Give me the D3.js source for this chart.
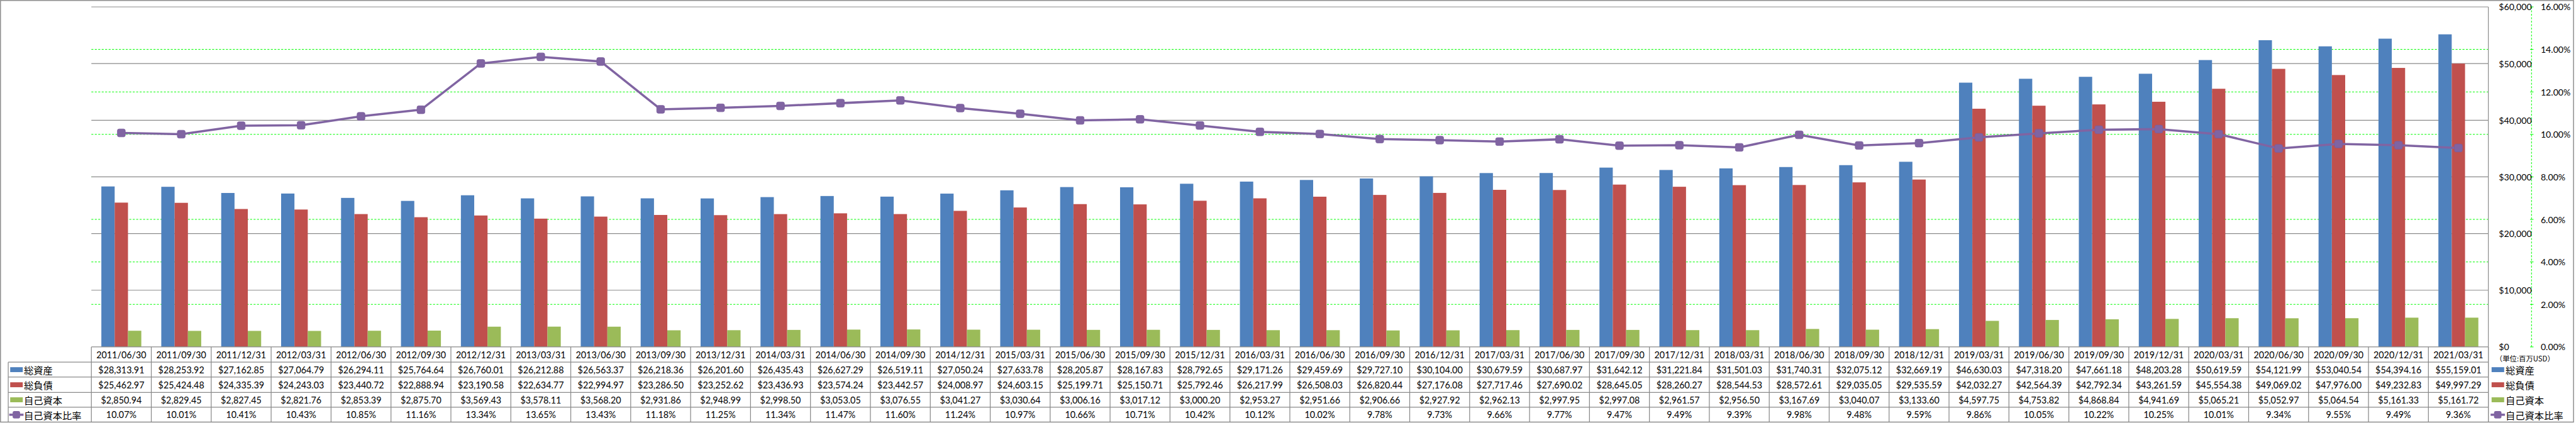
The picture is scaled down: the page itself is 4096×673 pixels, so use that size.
<!DOCTYPE html>
<html>
<head>
<meta charset="utf-8">
<script src="https://cdn.jsdelivr.net/npm/d3@7"></script>
<style>
html,body{margin:0;padding:0;background:#fff;}
svg{display:block;}
</style>
</head>
<body>
<svg id="chart" width="4096" height="673"></svg>
<script>
// ---------- data ----------
const dates = ["2011/06/30","2011/09/30","2011/12/31","2012/03/31","2012/06/30","2012/09/30","2012/12/31","2013/03/31","2013/06/30","2013/09/30","2013/12/31","2014/03/31","2014/06/30","2014/09/30","2014/12/31","2015/03/31","2015/06/30","2015/09/30","2015/12/31","2016/03/31","2016/06/30","2016/09/30","2016/12/31","2017/03/31","2017/06/30","2017/09/30","2017/12/31","2018/03/31","2018/06/30","2018/09/30","2018/12/31","2019/03/31","2019/06/30","2019/09/30","2019/12/31","2020/03/31","2020/06/30","2020/09/30","2020/12/31","2021/03/31"];
const totalAssets = [28313.91,28253.92,27162.85,27064.79,26294.11,25764.64,26760.01,26212.88,26563.37,26218.36,26201.60,26435.43,26627.29,26519.11,27050.24,27633.78,28205.87,28167.83,28792.65,29171.26,29459.69,29727.10,30104.00,30679.59,30687.97,31642.12,31221.84,31501.03,31740.31,32075.12,32669.19,46630.03,47318.20,47661.18,48203.28,50619.59,54121.99,53040.54,54394.16,55159.01];
const totalLiabilities = [25462.97,25424.48,24335.39,24243.03,23440.72,22888.94,23190.58,22634.77,22994.97,23286.50,23252.62,23436.93,23574.24,23442.57,24008.97,24603.15,25199.71,25150.71,25792.46,26217.99,26508.03,26820.44,27176.08,27717.46,27690.02,28645.05,28260.27,28544.53,28572.61,29035.05,29535.59,42032.27,42564.39,42792.34,43261.59,45554.38,49069.02,47976.00,49232.83,49997.29];
const equity = [2850.94,2829.45,2827.45,2821.76,2853.39,2875.70,3569.43,3578.11,3568.20,2931.86,2948.99,2998.50,3053.05,3076.55,3041.27,3030.64,3006.16,3017.12,3000.20,2953.27,2951.66,2906.66,2927.92,2962.13,2997.95,2997.08,2961.57,2956.50,3167.69,3040.07,3133.60,4597.75,4753.82,4868.84,4941.69,5065.21,5052.97,5064.54,5161.33,5161.72];
const equityRatio = [10.07,10.01,10.41,10.43,10.85,11.16,13.34,13.65,13.43,11.18,11.25,11.34,11.47,11.60,11.24,10.97,10.66,10.71,10.42,10.12,10.02,9.78,9.73,9.66,9.77,9.47,9.49,9.39,9.98,9.48,9.59,9.86,10.05,10.22,10.25,10.01,9.34,9.55,9.49,9.36];
const seriesNames = ["総資産","総負債","自己資本","自己資本比率"];
const moneyTicks = [0,10000,20000,30000,40000,50000,60000];
const pctTicks = [0,2,4,6,8,10,12,14,16];
const unitLabel = "（単位:百万USD）";

// ---------- styling ----------
const colors = ["#4F81BD","#C0504D","#9BBB59","#8064A2"];
const gridGray = "#8a8a8a";
const numFont = "Lato, 'Liberation Sans', sans-serif";
const cjkFont = "'Noto Sans CJK JP', 'Noto Sans CJK SC', sans-serif";

const svg = d3.select("#chart");
const g = svg.append("g").attr("transform","scale(0.784)");

// layout in reference pixels
const W = 5221, H = 858;
const plotL = 185.3, plotR = 5046.7, plotT = 14, plotB = 704;
const rowY = [704, 735, 765.3, 796.3, 826.3, 857];
const legL = 16.7;

// outer border
g.append("rect").attr("x",1).attr("y",1).attr("width",W-2.5).attr("height",H-2.5)
  .attr("fill","#fff").attr("stroke",gridGray).attr("stroke-width",1.8);

// scales
const x = d3.scaleBand().domain(dates).range([plotL, plotR]).paddingInner(1/3).paddingOuter(1/6);
const xs = d3.scaleBand().domain([0,1,2]).range([0, x.bandwidth()]);
const xCol = d3.scaleBand().domain(dates).range([plotL, plotR]);
const yL = d3.scaleLinear().domain([0,60000]).range([plotB, plotT]);
const yR = d3.scaleLinear().domain([0,16]).range([plotB, plotT]);

// green dashed gridlines (percent axis)
g.append("g").selectAll("line").data(pctTicks.filter(d => d > 0 && d < 16)).join("line")
  .attr("x1", plotL).attr("x2", plotR)
  .attr("y1", d => yR(d)).attr("y2", d => yR(d))
  .attr("stroke","#00ff00").attr("stroke-width",1.3).attr("stroke-dasharray","4,3");

// gray gridlines (money axis)
g.append("g").selectAll("line").data(moneyTicks.filter(d => d > 0)).join("line")
  .attr("x1", plotL).attr("x2", plotR)
  .attr("y1", d => yL(d)).attr("y2", d => yL(d))
  .attr("stroke", gridGray).attr("stroke-width",1.5);

// plot right border
g.append("line").attr("x1",plotR).attr("x2",plotR).attr("y1",plotT).attr("y2",rowY[5])
  .attr("stroke",gridGray).attr("stroke-width",1.5);

// bars
const barSeries = [totalAssets, totalLiabilities, equity];
barSeries.forEach((vals, si) => {
  g.append("g").selectAll("rect").data(vals).join("rect")
    .attr("x", (d,i) => x(dates[i]) + xs(si))
    .attr("width", xs.bandwidth())
    .attr("y", d => yL(d))
    .attr("height", d => plotB - yL(d))
    .attr("fill", colors[si]);
});

// ratio line
const line = d3.line().x((d,i) => x(dates[i]) + x.bandwidth()/2).y(d => yR(d));
g.append("path").datum(equityRatio).attr("d", line)
  .attr("fill","none").attr("stroke",colors[3]).attr("stroke-width",4.5).attr("stroke-linejoin","round");
const mk = 16;
g.append("g").selectAll("rect").data(equityRatio).join("rect")
  .attr("x", (d,i) => x(dates[i]) + x.bandwidth()/2 - mk/2)
  .attr("y", d => yR(d) - mk/2)
  .attr("width", mk).attr("height", mk).attr("rx",3.5)
  .attr("fill", colors[3]).attr("stroke","#7a5e9c").attr("stroke-width",1);

// right axes
const axisX = 5134.3;
g.append("line").attr("x1",axisX).attr("x2",axisX).attr("y1",plotT).attr("y2",plotB)
  .attr("stroke","#00ff00").attr("stroke-width",1.3).attr("stroke-dasharray","4,3");
g.append("g").selectAll("line").data(pctTicks).join("line")
  .attr("x1",axisX-3).attr("x2",axisX+4).attr("y1",d=>yR(d)).attr("y2",d=>yR(d))
  .attr("stroke","#00ff00").attr("stroke-width",1.3);
const fmtMoneyAxis = d3.format("$,");
g.append("g").selectAll("text").data(moneyTicks).join("text")
  .attr("x",5068).attr("y",d=>yL(d)).attr("dominant-baseline","central")
  .attr("font-family",numFont).attr("font-size",18).attr("fill","#000")
  .text(d=>fmtMoneyAxis(d));
g.append("g").selectAll("text").data(pctTicks).join("text")
  .attr("x",5153).attr("y",d=>yR(d)).attr("dominant-baseline","central")
  .attr("font-family",numFont).attr("font-size",18).attr("fill","#000")
  .text(d=>d3.format(".2f")(d)+"%");

// unit label
g.append("text").attr("x",5061).attr("y",727).attr("dominant-baseline","central")
  .attr("font-family",cjkFont).attr("font-size",14.5).attr("fill","#000").text(unitLabel);

// ---------- data table ----------
const tbl = g.append("g");
const lineAttrs = s => s.attr("stroke",gridGray).attr("stroke-width",1.6);
// horizontal lines
tbl.append("line").attr("x1",plotL).attr("x2",plotR).attr("y1",rowY[0]).attr("y2",rowY[0]).call(lineAttrs);
rowY.slice(1,5).forEach(yv => {
  tbl.append("line").attr("x1",legL).attr("x2",plotR).attr("y1",yv).attr("y2",yv).call(lineAttrs);
});
// vertical lines
tbl.append("line").attr("x1",legL).attr("x2",legL).attr("y1",rowY[1]).attr("y2",rowY[5]).call(lineAttrs);
const colEdges = dates.map(d => xCol(d)).concat([plotR]);
tbl.selectAll("line.v").data(colEdges).join("line").attr("class","v")
  .attr("x1",d=>d).attr("x2",d=>d).attr("y1",rowY[0]).attr("y2",rowY[5]).call(lineAttrs);

const rowC = i => (rowY[i] + rowY[i+1]) / 2;
const fmtMoney = d3.format("$,.2f");
const fmtPct = d => d3.format(".2f")(d) + "%";
const rows = [
  {vals: dates, f: d => d},
  {vals: totalAssets, f: fmtMoney},
  {vals: totalLiabilities, f: fmtMoney},
  {vals: equity, f: fmtMoney},
  {vals: equityRatio, f: fmtPct}
];
rows.forEach((r, ri) => {
  tbl.append("g").selectAll("text").data(r.vals).join("text")
    .attr("x", (d,i) => xCol(dates[i]) + xCol.bandwidth()/2)
    .attr("y", rowC(ri))
    .attr("text-anchor","middle").attr("dominant-baseline","central")
    .attr("font-family",numFont).attr("font-size",18.3).attr("fill","#000")
    .text(d => r.f(d));
});

// legend keys (in table and at right)
function drawKey(parent, x0, yc, si) {
  if (si < 3) {
    parent.append("rect").attr("x",x0).attr("y",yc-5).attr("width",25.5).attr("height",10).attr("fill",colors[si]);
  } else {
    parent.append("line").attr("x1",x0-2).attr("x2",x0+27).attr("y1",yc).attr("y2",yc)
      .attr("stroke",colors[3]).attr("stroke-width",4.5);
    parent.append("rect").attr("x",x0+12.5-7.5).attr("y",yc-7.5).attr("width",15).attr("height",15).attr("rx",3.5)
      .attr("fill",colors[3]);
  }
}
seriesNames.forEach((name, si) => {
  const yc = rowC(si+1);
  drawKey(tbl, 20.7, yc, si);
  tbl.append("text").attr("x",48.5).attr("y",yc).attr("dominant-baseline","central")
    .attr("font-family",cjkFont).attr("font-size",19.5).attr("fill","#000").text(name);
  drawKey(g, 5053.3, yc, si);
  g.append("text").attr("x",5081.7).attr("y",yc).attr("dominant-baseline","central")
    .attr("font-family",cjkFont).attr("font-size",19.5).attr("fill","#000").text(name);
});
</script>
</body>
</html>
